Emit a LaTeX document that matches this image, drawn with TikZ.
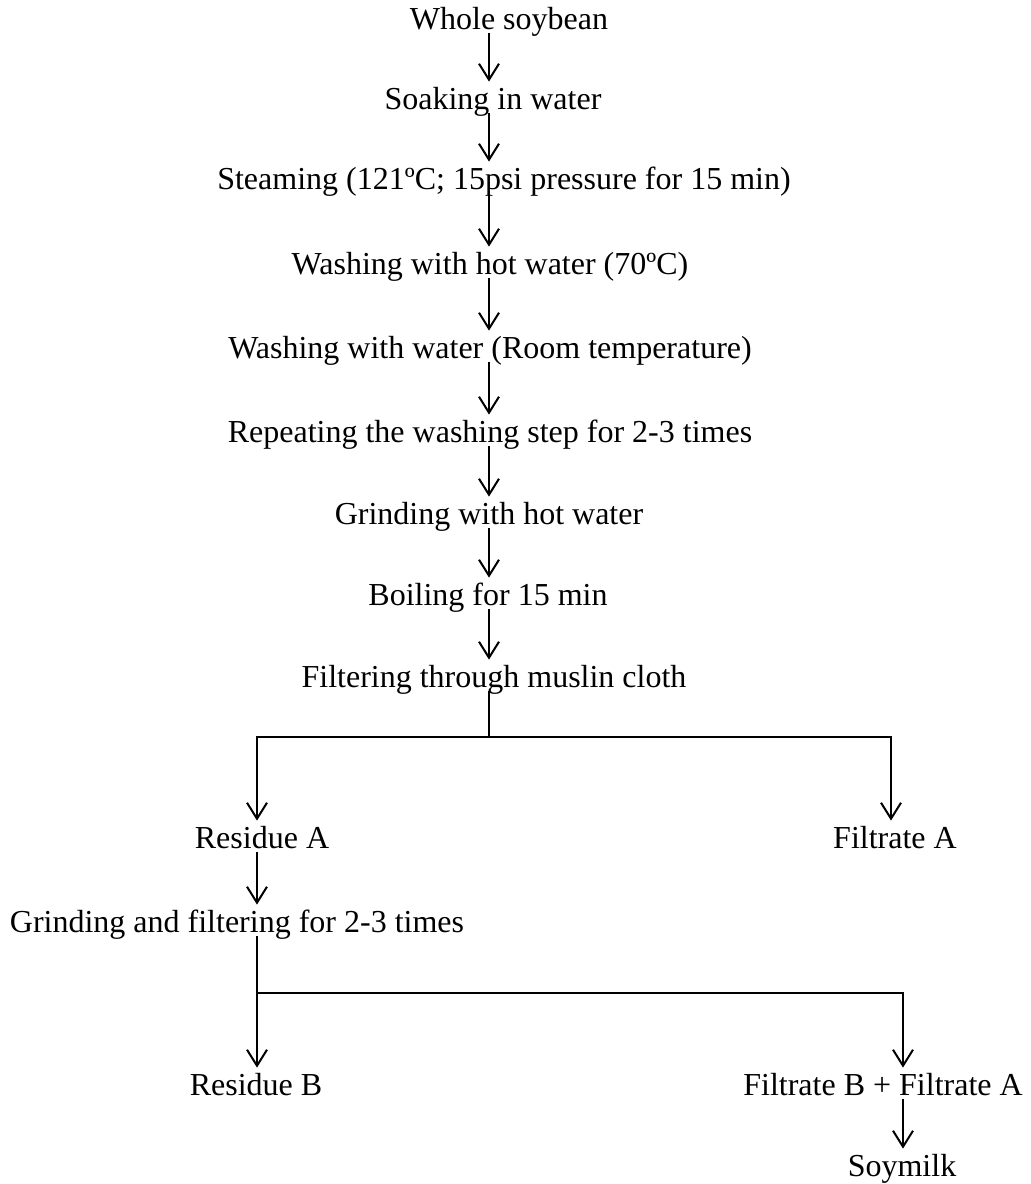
\documentclass[tikz,border=0pt]{standalone}
\usepackage{fontspec}
\setmainfont{Liberation Serif}
\usetikzlibrary{arrows.meta}
\tikzset{
  stage/.style={anchor=base, inner sep=0pt, text height=13.5pt, text depth=2pt,
    font=\fontsize{16}{19}\selectfont},
  flow/.style={-{Straight Barb[length=8pt,width=10pt]}, line width=1pt},
  link/.style={line width=1pt}
}
\begin{document}
\begin{tikzpicture}[x=0.5pt, y=-0.5pt]
  \useasboundingbox (0,0) rectangle (1030,1184);

  % Main chain of steps
  \node[stage] (whole) at (509,29) {Whole soybean};
  \node[stage] (soak) at (493,109) {Soaking in water};
  \node[stage] (steam) at (504,189) {Steaming (121ºC; 15psi pressure for 15 min)};
  \node[stage] (washhot) at (490,274) {Washing with hot water (70ºC)};
  \node[stage] (washroom) at (490,358) {Washing with water (Room temperature)};
  \node[stage] (repeat) at (490,442) {Repeating the washing step for 2-3 times};
  \node[stage] (grindhot) at (489,524) {Grinding with hot water};
  \node[stage] (boil) at (488,605) {Boiling for 15 min};
  \node[stage] (filter) at (494,687) {Filtering through muslin cloth};

  % Arrows down the chain
  \coordinate (spine) at (489,0);
  \foreach \a/\b in {whole/soak, soak/steam, steam/washhot, washhot/washroom,
      washroom/repeat, repeat/grindhot, grindhot/boil, boil/filter}
    \draw[flow] (\a.south -| spine) -- (\b.north -| spine);

  % First split
  \node[stage] (resA) at (262,848) {Residue A};
  \node[stage] (filtA) at (895,848) {Filtrate A};
  \coordinate (split) at (489,737);
  \coordinate (splitL) at (257,737);
  \coordinate (splitR) at (891,737);
  \draw[link] (filter.south -| split) -- (split);
  \draw[flow] (split) -| (splitL |- resA.north);
  \draw[flow] (split) -| (splitR |- filtA.north);

  % Second grinding
  \node[stage] (grindtwo) at (237,932) {Grinding and filtering for 2-3 times};
  \draw[flow] (resA.south -| splitL) -- (grindtwo.north -| splitL);

  % Second split
  \node[stage] (resB) at (256,1095) {Residue B};
  \node[stage] (filtB) at (883,1095) {Filtrate B + Filtrate A};
  \coordinate (splittwo) at (257,993);
  \coordinate (splittwoR) at (903,993);
  \draw[flow] (grindtwo.south -| splittwo) -- (splittwo |- resB.north);
  \draw[flow] (splittwo) -| (splittwoR |- filtB.north);

  % Final product
  \node[stage] (soy) at (902,1176) {Soymilk};
  \draw[flow] (filtB.south -| splittwoR) -- (soy.north -| splittwoR);
\end{tikzpicture}
\end{document}
